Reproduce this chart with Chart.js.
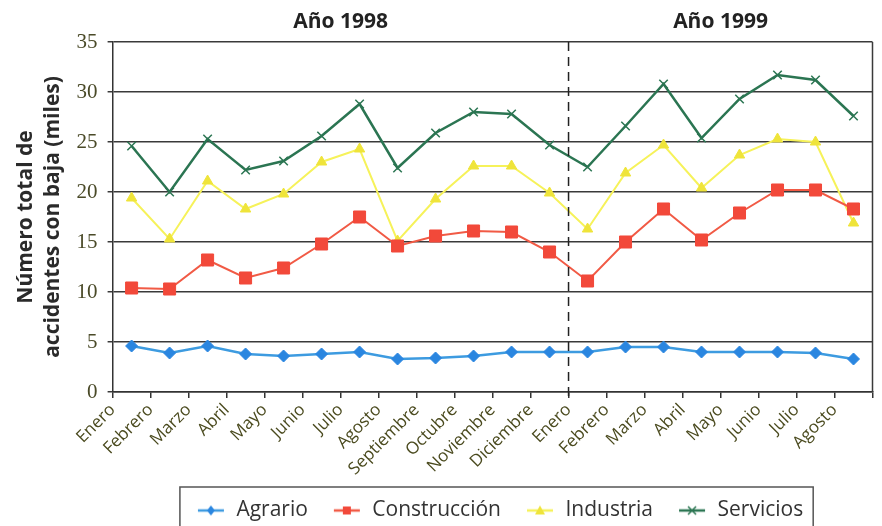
<!DOCTYPE html>
<html><head><meta charset="utf-8">
<script src="https://cdn.jsdelivr.net/npm/chart.js@4/dist/chart.umd.min.js"></script>
<style>html,body{margin:0;padding:0;background:#fff;}canvas{display:block;}</style>
</head><body>
<canvas id="c" width="882" height="526"></canvas>
<script>
const months = ['Enero','Febrero','Marzo','Abril','Mayo','Junio','Julio','Agosto','Septiembre','Octubre','Noviembre','Diciembre','Enero','Febrero','Marzo','Abril','Mayo','Junio','Julio','Agosto'];
const yearLabels = ['Año 1998','Año 1999'];
const seriesNames = ['Agrario','Construcción','Industria','Servicios'];
const agrario = [4.6,3.9,4.6,3.8,3.6,3.8,4.0,3.3,3.4,3.6,4.0,4.0,4.0,4.5,4.5,4.0,4.0,4.0,3.9,3.3];
const construccion = [10.4,10.3,13.2,11.4,12.4,14.8,17.5,14.6,15.6,16.1,16.0,14.0,11.1,15.0,18.3,15.2,17.9,20.2,20.2,18.3];
const industria = [19.4,15.3,21.1,18.3,19.8,23.0,24.3,15.1,19.3,22.6,22.6,19.9,16.3,21.9,24.7,20.4,23.7,25.3,25.0,16.9];
const servicios = [24.6,20.0,25.3,22.2,23.1,25.6,28.8,22.4,25.9,28.0,27.8,24.7,22.5,26.6,30.8,25.4,29.3,31.7,31.2,27.6];
const yTicks = [0,5,10,15,20,25,30,35];
const yearSplit = 12; // first month of 1999

const styles = [
  {line:'#3d9be0', point:'#2a86e0', shape:'rectRot', r:6, lw:2.5},
  {line:'#f15a45', point:'#f2493a', shape:'rect', r:8.5, lw:2},
  {line:'#f6f25a', point:'#efe43a', shape:'triangle', r:6, lw:2},
  {line:'#2b7552', point:'#2b7552', shape:'crossRot', r:6, lw:2.5}
];
const values = [agrario, construccion, industria, servicios];

function legendIcon(st){
  const cv = document.createElement('canvas');
  cv.width = 44; cv.height = 18;
  const ctx = cv.getContext('2d');
  ctx.strokeStyle = st.line; ctx.fillStyle = st.point; ctx.lineWidth = 2.5;
  ctx.beginPath(); ctx.moveTo(16,9); ctx.lineTo(42,9); ctx.stroke();
  const cx = 29, cy = 9;
  ctx.beginPath();
  if (st.shape === 'rectRot'){ ctx.moveTo(cx,cy-5); ctx.lineTo(cx+4,cy); ctx.lineTo(cx,cy+5); ctx.lineTo(cx-4,cy); ctx.closePath(); ctx.fill(); }
  else if (st.shape === 'rect'){ ctx.rect(cx-4,cy-4,8,8); ctx.fill(); }
  else if (st.shape === 'triangle'){ ctx.moveTo(cx,cy-5); ctx.lineTo(cx+5,cy+4); ctx.lineTo(cx-5,cy+4); ctx.closePath(); ctx.fill(); }
  else { ctx.lineWidth = 1.5; ctx.moveTo(cx-4,cy-4); ctx.lineTo(cx+4,cy+4); ctx.moveTo(cx+4,cy-4); ctx.lineTo(cx-4,cy+4); ctx.stroke(); }
  return cv;
}
const icons = styles.map(legendIcon);

const decor = {
  id:'decor',
  afterDraw(chart){
    const {ctx, chartArea:a, scales:{x}} = chart;
    const bx = (x.getPixelForValue(yearSplit-1) + x.getPixelForValue(yearSplit))/2;
    ctx.save();
    ctx.strokeStyle = '#3a3a3a'; ctx.lineWidth = 1.5;
    ctx.beginPath(); ctx.moveTo(a.right, a.top); ctx.lineTo(a.right, a.bottom); ctx.stroke();
    ctx.strokeStyle = '#222'; ctx.setLineDash([9,6]);
    ctx.beginPath(); ctx.moveTo(bx, a.top); ctx.lineTo(bx, a.bottom + 6); ctx.stroke();
    ctx.setLineDash([]);
    ctx.fillStyle = '#222'; ctx.font = 'bold 21px "Open Sans"';
    ctx.textAlign = 'center'; ctx.textBaseline = 'middle';
    ctx.fillText(yearLabels[0], (a.left + bx)/2, a.top - 20);
    ctx.fillText(yearLabels[1], (bx + a.right)/2, a.top - 20);
    const lg = chart.legend;
    if (lg && lg.legendHitBoxes.length){
      const hb = lg.legendHitBoxes;
      const l = hb[0].left - 2, r = hb[hb.length-1].left + hb[hb.length-1].width + 10;
      ctx.strokeStyle = '#555'; ctx.lineWidth = 1.5;
      ctx.strokeRect(l, lg.top - 3, r - l, 80);
    }
    ctx.restore();
  }
};

new Chart(document.getElementById('c'), {
  type:'line',
  data:{
    labels: months,
    datasets: values.map((v,i)=>({
      label: seriesNames[i], data: v,
      borderColor: styles[i].line, borderWidth: styles[i].lw,
      pointStyle: styles[i].shape, pointRadius: styles[i].r,
      pointBackgroundColor: styles[i].point, pointBorderColor: styles[i].point,
      pointBorderWidth: styles[i].shape === 'crossRot' ? 1.5 : 1,
      tension: 0, fill: false
    }))
  },
  options:{
    responsive:false, animation:false,
    layout:{padding:{top:42, left:12, right:2, bottom:-5}},
    plugins:{
      tooltip:{enabled:false},
      legend:{
        position:'bottom', fullSize:false,
        labels:{
          usePointStyle:true, pointStyleWidth:44, padding:10,
          color:'#333', font:{family:'Open Sans', size:21},
          generateLabels(chart){
            return chart.data.datasets.map((ds,i)=>({text:ds.label, pointStyle:icons[i], fillStyle:ds.borderColor, strokeStyle:ds.borderColor, lineWidth:0, hidden:false, datasetIndex:i, fontColor:'#333'}));
          }
        }
      }
    },
    scales:{
      x:{
        offset:true,
        grid:{display:true, drawOnChartArea:false, drawTicks:true, tickLength:6, offset:true, color:'#333', lineWidth:1.5},
        border:{display:true, color:'#333', width:1.5},
        ticks:{autoSkip:false, maxRotation:45, minRotation:45, labelOffset:-19, padding:2, color:'#4a4a1e', font:{family:'Open Sans', size:17}},
        afterFit(s){ s.height = 98; }
      },
      y:{
        min:0, max:35,
        afterBuildTicks(s){ s.ticks = yTicks.map(v=>({value:v})); },
        grid:{color:'#3a3a3a', lineWidth:1.5, drawTicks:true, tickLength:5},
        border:{display:true, color:'#333', width:1.5},
        ticks:{padding:10, color:'#4a4a28', font:{family:'Liberation Sans Narrow', size:21}},
        title:{display:true, text:['Número total de','accidentes con baja (miles)'], color:'#2a2a2a', font:{family:'Open Sans', size:21, weight:'bold', lineHeight:1.3}, padding:{top:0,bottom:0}}
      }
    }
  },
  plugins:[decor]
});
</script>
</body></html>
